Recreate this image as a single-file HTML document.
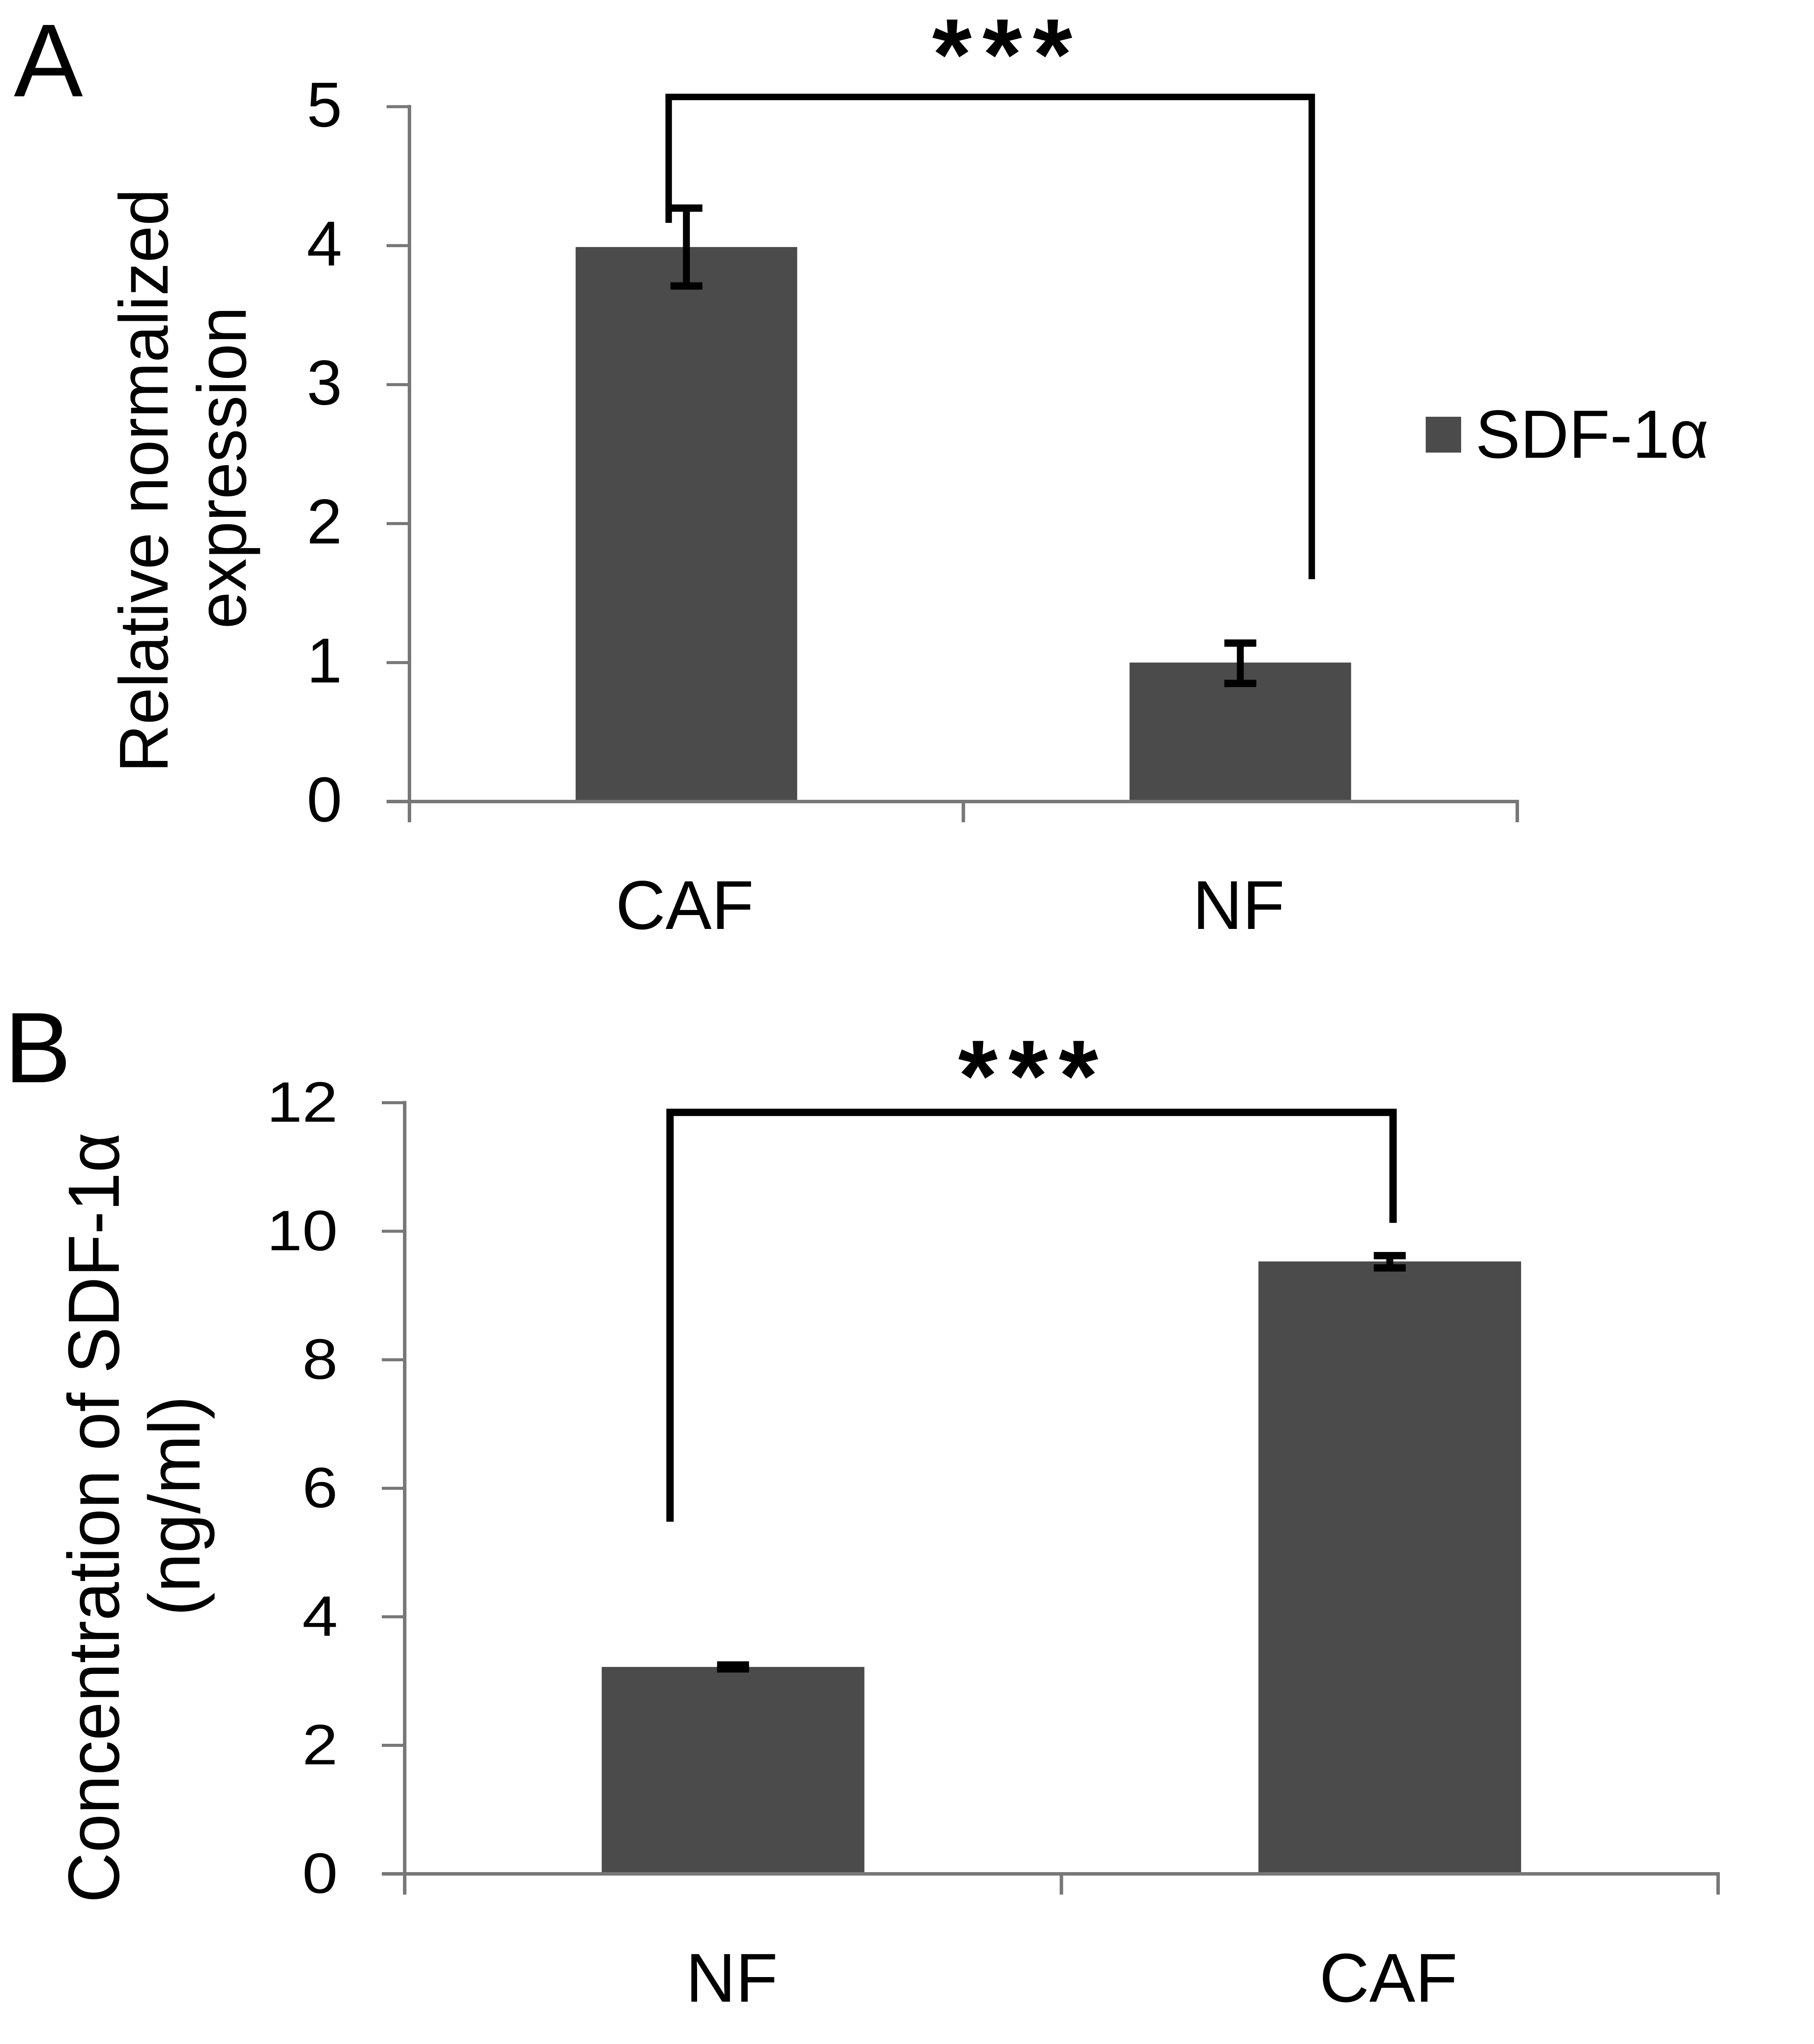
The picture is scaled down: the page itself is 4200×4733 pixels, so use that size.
<!DOCTYPE html>
<html lang="en">
<head>
<meta charset="utf-8">
<title>SDF-1α expression and concentration in CAF and NF</title>
<style>
html,body{margin:0;padding:0;background:#fff;}
svg{display:block;}
text{font-family:"Liberation Sans",sans-serif;fill:#000;}
</style>
</head>
<body>
<svg id="figure" xmlns="http://www.w3.org/2000/svg" width="4200" height="4733" viewBox="0 0 4200 4733">
  <rect x="0" y="0" width="4200" height="4733" fill="#ffffff"/>
  <g id="chart-a"></g>
  <g id="chart-b"></g>

  <text x="32" y="223" font-size="240">A</text>
  <text x="10" y="2506" font-size="232">B</text>

  <text transform="translate(388,1113) rotate(-90)" text-anchor="middle" font-size="160" textLength="1352" lengthAdjust="spacingAndGlyphs">Relative normalized</text>
  <text transform="translate(569,1083) rotate(-90)" text-anchor="middle" font-size="160" textLength="746" lengthAdjust="spacingAndGlyphs">expression</text>

  <text transform="translate(275,3514) rotate(-90)" text-anchor="middle" font-size="168" textLength="1784" lengthAdjust="spacingAndGlyphs">Concentration of SDF-1α</text>
  <text transform="translate(462,3487) rotate(-90)" text-anchor="middle" font-size="168" textLength="510" lengthAdjust="spacingAndGlyphs">(ng/ml)</text>

  <rect x="3301" y="965" width="82" height="83" fill="#4b4b4b"/>
  <text x="3416" y="1060" font-size="158" textLength="540" lengthAdjust="spacingAndGlyphs">SDF-1α</text>
</svg>

<script>
// Chart A: relative normalized expression
const categoriesA = ['CAF', 'NF'];
const valuesA = [3.99, 1.0];
const errorUpperA = [4.27, 1.14];
const errorLowerA = [3.71, 0.85];
const tickLabelsA = ['0', '1', '2', '3', '4', '5'];
const tickValuesA = [0, 1, 2, 3, 4, 5];

// Chart B: concentration of SDF-1 alpha (ng/ml)
const categoriesB = ['NF', 'CAF'];
const valuesB = [3.22, 9.53];
const errorUpperB = [3.25, 9.62];
const errorLowerB = [3.19, 9.43];
const tickLabelsB = ['0', '2', '4', '6', '8', '10', '12'];
const tickValuesB = [0, 2, 4, 6, 8, 10, 12];

const SVG_NS = 'http://www.w3.org/2000/svg';
const AXIS_COLOR = '#777777';
const BAR_COLOR = '#4b4b4b';

function make(tag, attrs, parent, content) {
  const el = document.createElementNS(SVG_NS, tag);
  for (const k in attrs) el.setAttribute(k, attrs[k]);
  if (content !== undefined) el.textContent = content;
  parent.appendChild(el);
  return el;
}

function drawChart(cfg) {
  const root = document.getElementById(cfg.id);
  const yScale = v => cfg.y0 - v * cfg.unit;
  const catW = (cfg.xEnd - cfg.x0) / cfg.categories.length;
  const xScale = c => cfg.x0 + c * catW;

  // bars
  cfg.categories.forEach((cat, i) => {
    const bw = catW * 0.4;
    const cx = xScale(i + 0.5);
    const bar = make('rect', {
      x: cx - bw / 2,
      y: yScale(cfg.values[i]),
      width: bw,
      height: cfg.y0 - yScale(cfg.values[i]),
      fill: BAR_COLOR
    }, root);
    
    
  });

  // axes
  const yAxis = make('line', {
    x1: cfg.x0, x2: cfg.x0,
    y1: yScale(cfg.tickValues[cfg.tickValues.length - 1]) - 4,
    y2: cfg.y0 + 48,
    stroke: AXIS_COLOR, 'stroke-width': 8
  }, root);
  
  

  const xAxis = make('line', {
    x1: cfg.x0 - 53, x2: cfg.xEnd + 4,
    y1: cfg.y0, y2: cfg.y0,
    stroke: AXIS_COLOR, 'stroke-width': 8
  }, root);
  
  

  // y ticks and labels
  cfg.tickValues.forEach((v, i) => {
    const t = make('line', {
      x1: cfg.x0 - 53, x2: cfg.x0,
      y1: yScale(v), y2: yScale(v),
      stroke: AXIS_COLOR, 'stroke-width': 7
    }, root);
    
    

    const lab = make('text', {
      transform: 'translate(' + cfg.tickRight + ',' + (yScale(v) + cfg.tickBaseline) + ') scale(' + cfg.tickSx + ',1)',
      'text-anchor': 'end',
      'font-size': cfg.tickFont
    }, root, cfg.tickLabels[i]);
    
    
  });

  // x ticks
  for (let i = 0; i <= cfg.categories.length; i++) {
    const t = make('line', {
      x1: xScale(i), x2: xScale(i),
      y1: cfg.y0, y2: cfg.y0 + 48,
      stroke: AXIS_COLOR, 'stroke-width': 8
    }, root);
    
    
  }

  // category labels
  cfg.categories.forEach((cat, i) => {
    const lab = make('text', {
      x: xScale(i + 0.5) + cfg.catDx,
      y: cfg.catBaseline,
      'text-anchor': 'middle',
      'font-size': 160
    }, root, cat);
    
    
  });

  // error bars
  cfg.categories.forEach((cat, i) => {
    const cx = xScale(i + 0.5);
    const yU = yScale(cfg.errorUpper[i]);
    const yL = yScale(cfg.errorLower[i]);
    const g = make('g', { stroke: '#000', fill: 'none' }, root);
    
    
    make('line', { x1: cx, x2: cx, y1: yU, y2: yL, 'stroke-width': 16 }, g);
    make('line', { x1: cx - 37, x2: cx + 37, y1: yU, y2: yU, 'stroke-width': 17 }, g);
    make('line', { x1: cx - 37, x2: cx + 37, y1: yL, y2: yL, 'stroke-width': 17 }, g);
  });

  // significance bracket
  const b = cfg.bracket;
  const path = make('path', {
    d: 'M' + xScale(b.left) + ' ' + yScale(b.leftFoot) +
       'V' + yScale(b.top) +
       'H' + xScale(b.right) +
       'V' + yScale(b.rightFoot),
    fill: 'none', stroke: '#000', 'stroke-width': cfg.bracketWidth, 'stroke-linejoin': 'miter'
  }, root);
  
  

  const stars = make('text', {
    x: cfg.starX, y: cfg.starBaseline,
    'text-anchor': 'middle',
    'font-size': 235,
    'font-weight': 'bold',
    'letter-spacing': 25
  }, root, '***');
  
  
}

drawChart({
  id: 'chart-a',
  categories: categoriesA, values: valuesA,
  errorUpper: errorUpperA, errorLower: errorLowerA,
  tickLabels: tickLabelsA, tickValues: tickValuesA,
  x0: 948, xEnd: 3513, y0: 1856, unit: 321.8,
  tickRight: 792, tickBaseline: 46, tickFont: 147, tickSx: 1,
  catDx: -4, catBaseline: 2151,
  bracket: { left: 0.468, right: 1.629, top: 5.07, leftFoot: 4.164, rightFoot: 1.6 },
  bracketWidth: 15,
  starX: 2333, starBaseline: 207
});

drawChart({
  id: 'chart-b',
  categories: categoriesB, values: valuesB,
  errorUpper: errorUpperB, errorLower: errorLowerB,
  tickLabels: tickLabelsB, tickValues: tickValuesB,
  x0: 937, xEnd: 3978, y0: 4339, unit: 148.8,
  tickRight: 782, tickBaseline: 44, tickFont: 132, tickSx: 1.12,
  catDx: -3, catBaseline: 4635,
  bracket: { left: 0.404, right: 1.505, top: 11.85, leftFoot: 5.48, rightFoot: 10.13 },
  bracketWidth: 17,
  starX: 2393, starBaseline: 2572
});
</script>
</body>
</html>
